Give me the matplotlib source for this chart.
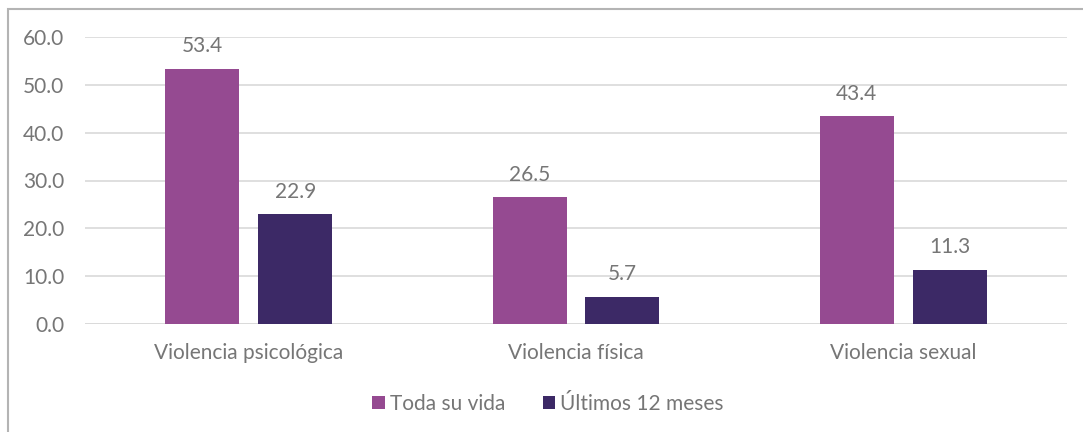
import matplotlib.pyplot as plt
import numpy as np
from matplotlib.patches import Rectangle

categorias = ["Violencia psicológica", "Violencia física", "Violencia sexual"]
toda_su_vida = [53.4, 26.5, 43.4]
ultimos_12 = [22.9, 5.7, 11.3]
series = ["Toda su vida", "Últimos 12 meses"]
colores = ["#954A91", "#3C2966"]
gris = "#767676"

plt.rcParams['font.family'] = ['Lato', 'DejaVu Sans']

W, H = 1083, 432
fig = plt.figure(figsize=(W/100, H/100), dpi=100)
ax = fig.add_axes([85/W, 1-324/H, (1067-85)/W, (324-37)/H])

# marco gris del gráfico (recortado por la imagen)
fig.patches.append(Rectangle((8/W, -0.1), 1.2, 1-9/H+0.1, transform=fig.transFigure,
                             fill=False, edgecolor="#B4B4B4", linewidth=1.5))

x = np.arange(len(categorias))
ancho = 0.226
sep = 0.142
b1 = ax.bar(x - sep, toda_su_vida, ancho, color=colores[0], label=series[0], zorder=3)
b2 = ax.bar(x + sep, ultimos_12, ancho, color=colores[1], label=series[1], zorder=3)

fs = 15
for barras in (b1, b2):
    ax.bar_label(barras, fmt="%.1f", padding=9, color=gris, fontsize=fs)

ax.set_xlim(-0.5, 2.5)
ax.set_ylim(0, 60)
ax.set_yticks(np.arange(0, 61, 10))
ax.yaxis.set_major_formatter(plt.FuncFormatter(lambda v, p: f"{v:.1f}"))
ax.yaxis.grid(True, color="#D9D9D9", linewidth=1.2, zorder=0)
ax.set_xticks(x)
ax.set_xticklabels(categorias)
ax.tick_params(axis="both", length=0, colors=gris, labelsize=fs)
ax.tick_params(axis="x", pad=14)
ax.tick_params(axis="y", pad=15)
for s in ax.spines.values():
    s.set_visible(False)
ax.axhline(0, color="#D9D9D9", linewidth=1.2, zorder=2)

leg = fig.legend(loc="center", bbox_to_anchor=(548/W, 1-404/H), ncol=2, frameon=False,
                 fontsize=fs, handlelength=0.6, handleheight=0.6, handletextpad=0.25,
                 columnspacing=1.8)
for t in leg.get_texts():
    t.set_color(gris)

fig.savefig("out.png", dpi=100)
